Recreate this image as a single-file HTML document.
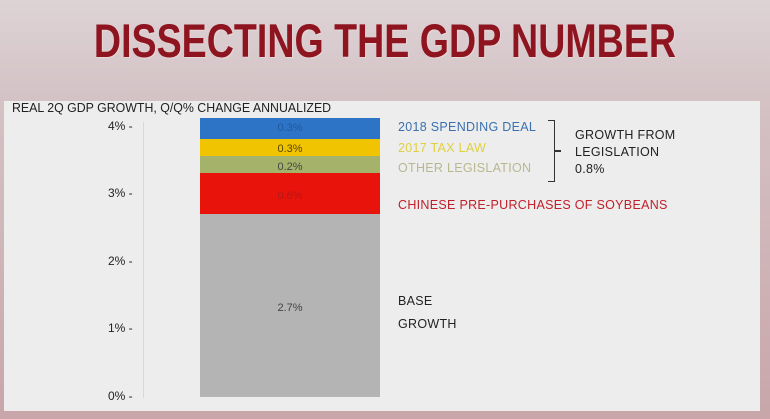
<!DOCTYPE html>
<html><head><style>
body{margin:0;width:770px;height:419px;overflow:hidden;background:linear-gradient(#ddd3d5,#d4c2c5 100px,#c8a6aa);font-family:"Liberation Sans",sans-serif;position:relative}
.t{position:absolute;left:0;width:770px;top:13px;text-align:center;font:bold 47px "Liberation Sans",sans-serif;color:#8e1420;transform:scaleX(0.80);text-shadow:1px 1px 1px #e8d8da}
.p{position:absolute;left:4px;top:101px;width:756px;height:310px;background:#ededed}
.a{position:absolute;font-size:12px;color:#222}
.s{position:absolute;left:200px;width:180px;text-align:center;font-size:11px;line-height:1}
.l{position:absolute;font-size:12.5px;letter-spacing:.3px}
</style></head><body>
<div class="t">DISSECTING THE GDP NUMBER</div>
<div class="p"></div>
<div class="a" style="left:12px;top:101px;font-size:13px;line-height:14px;transform:scaleX(.95);transform-origin:left">REAL 2Q GDP GROWTH, Q/Q% CHANGE ANNUALIZED</div>
<div style="position:absolute;left:143px;top:122px;width:1px;height:276px;background:#d8d8d8"></div>
<div class="a" style="left:108px;top:119px">4% -</div>
<div class="a" style="left:108px;top:186px">3% -</div>
<div class="a" style="left:108px;top:254px">2% -</div>
<div class="a" style="left:108px;top:321px">1% -</div>
<div class="a" style="left:108px;top:389px">0% -</div>
<div class="s" style="top:118px;height:21px;background:#2e74c6;color:#1d5aa0;line-height:21px">0.3%</div>
<div class="s" style="top:139px;height:17px;background:#f0c400;color:#554400;line-height:20px">0.3%</div>
<div class="s" style="top:156px;height:17px;background:#a5b36a;color:#444;line-height:23px">0.2%</div>
<div class="s" style="top:173px;height:41px;background:#e8140c;color:#b01818;line-height:46px">0.6%</div>
<div class="s" style="top:214px;height:183px;background:#b4b4b4;color:#444;line-height:188px">2.7%</div>
<div class="l" style="left:398px;top:120px;color:#3a70b0">2018 SPENDING DEAL</div>
<div class="l" style="left:398px;top:141px;color:#e0d040">2017 TAX LAW</div>
<div class="l" style="left:398px;top:161px;color:#b8b890">OTHER LEGISLATION</div>
<div class="l" style="left:398px;top:198px;color:#c0202a">CHINESE PRE-PURCHASES OF SOYBEANS</div>
<div class="l" style="left:398px;top:290px;color:#222;line-height:23px">BASE<br>GROWTH</div>
<div style="position:absolute;left:548px;top:120px;width:6px;height:60px;border:1.5px solid #333;border-left:none"></div>
<div style="position:absolute;left:554px;top:150px;width:7px;height:1.5px;background:#333"></div>
<div class="l" style="left:575px;top:127px;color:#222;line-height:17px">GROWTH FROM<br>LEGISLATION<br>0.8%</div>
</body></html>
